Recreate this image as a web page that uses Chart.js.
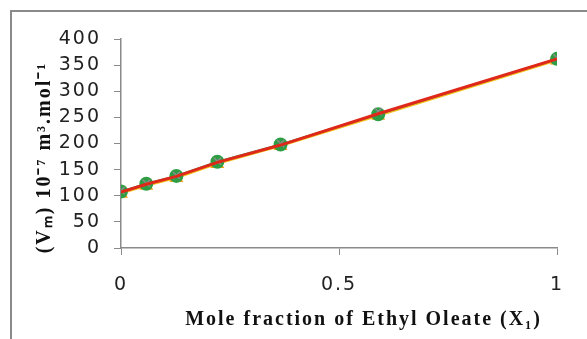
<!DOCTYPE html>
<html>
<head>
<meta charset="utf-8">
<script src="https://cdn.jsdelivr.net/npm/chart.js@4.4.1/dist/chart.umd.min.js"></script>
<style>
  body { margin: 0; background: #fff; }
  #wrap { position: relative; width: 587px; height: 339px; }
</style>
</head>
<body>
<div id="wrap"><canvas id="mycanvas" width="587" height="339"></canvas></div>
<script>
// mole fraction of ethyl oleate and molar volume readings
var fraction = [0, 0.058, 0.127, 0.221, 0.366, 0.59, 1];
var vmRed = [107, 122, 137, 164, 197, 257, 362];
var vmCross = [110, 124, 139, 166, 200, 261, 364];
var vmCircle = [108, 123, 138, 165, 198, 256, 362];
var vmTriangle = [104, 119, 134, 161, 195, 253, 359];
var xTicks = [0, 0.5, 1];
var yTicks = [0, 50, 100, 150, 200, 250, 300, 350, 400];

function pts(vals){
  var out = [];
  for(var i in vals){
    out.push({x: fraction[i], y: vals[i]});
  }
  return out;
}

// grey frame round the chart, like the excel chart border
// also spreads the letters a bit, the old excel text is wide
var frame = {
  id: 'frame',
  beforeLayout: function(chart){
    chart.ctx.letterSpacing = '2px';
  },
  beforeDraw: function(chart){
    var c = chart.ctx;
    c.letterSpacing = '2px';
    c.save();
    c.strokeStyle = '#8a8a8a';
    c.lineWidth = 2;
    c.beginPath();
    c.moveTo(11, 339);
    c.lineTo(11, 11);
    c.lineTo(587, 11);
    c.stroke();
    c.restore();
  }
};

var ctx = document.getElementById('mycanvas');
var chart = new Chart(ctx, {
  type: 'scatter',
  data: {
    datasets: [
      {
        label: 'fit',
        data: pts(vmRed),
        showLine: true,
        borderColor: '#e0281a',
        borderWidth: 3,
        pointRadius: 0
      },
      {
        label: 'set 3',
        data: pts(vmCross),
        showLine: false,
        pointStyle: 'crossRot',
        pointRadius: 5,
        borderColor: '#8c8c8c',
        borderWidth: 1.5
      },
      {
        label: 'set 2',
        data: pts(vmCircle),
        showLine: true,
        borderColor: '#3aa36a',
        borderWidth: 2,
        pointStyle: 'circle',
        pointRadius: 6,
        pointBackgroundColor: '#2e9e45',
        pointBorderColor: '#2e9e45'
      },
      {
        label: 'set 1',
        data: pts(vmTriangle),
        showLine: true,
        borderColor: '#f2c21c',
        borderWidth: 2,
        pointStyle: 'triangle',
        pointRadius: 6,
        pointBackgroundColor: '#f5c518',
        pointBorderColor: '#f0a010'
      }
    ]
  },
  options: {
    responsive: false,
    animation: false,
    events: [],
    layout: { padding: { left: 33, top: 39, right: 30, bottom: 0 } },
    plugins: { legend: { display: false }, tooltip: { enabled: false } },
    scales: {
      x: {
        type: 'linear',
        min: 0,
        max: 1,
        afterBuildTicks: function(s){ s.ticks = xTicks.map(function(v){ return {value: v}; }); },
        afterFit: function(s){ s.height = 339 - 248; },
        border: { color: '#8a8a8a', width: 1.5 },
        grid: { drawOnChartArea: false, tickLength: 7, color: '#8a8a8a' },
        ticks: {
          padding: 19,
          color: '#222',
          font: { family: 'DejaVu Sans', size: 19 },
          maxRotation: 0,
          callback: function(v){ return String(v); }
        },
        title: {
          display: true,
          text: '       Mole fraction of Ethyl Oleate (X\u2081)',
          color: '#111',
          font: { family: 'Liberation Serif', size: 20, weight: 'bold' },
          padding: { top: 0, bottom: 7 }
        }
      },
      y: {
        min: 0,
        max: 400,
        afterBuildTicks: function(s){ s.ticks = yTicks.map(function(v){ return {value: v}; }); },
        afterFit: function(s){ s.width = 121 - 33; },
        border: { color: '#8a8a8a', width: 1.5 },
        grid: { drawOnChartArea: false, tickLength: 7, color: '#8a8a8a' },
        ticks: {
          padding: 13,
          color: '#222',
          font: { family: 'DejaVu Sans', size: 19 }
        },
        title: {
          display: true,
          text: '(V\u2098) 10\u207B\u2077 m\u00B3.mol\u207B\u00B9    ',
          color: '#111',
          font: { family: 'Liberation Serif', size: 20, weight: 'bold' },
          padding: 0
        }
      }
    }
  },
  plugins: [frame]
});
</script>
</body>
</html>
